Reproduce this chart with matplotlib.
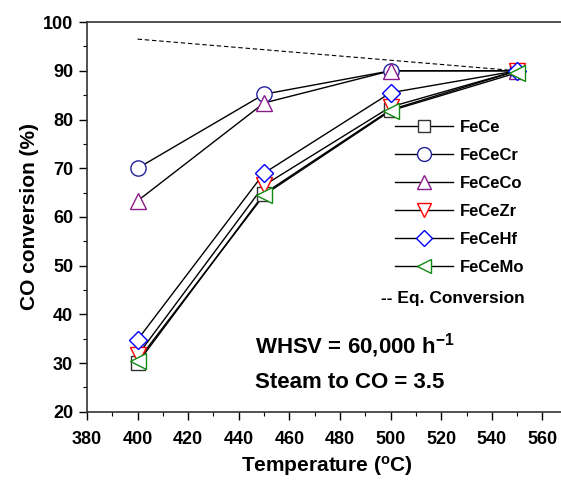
import matplotlib
matplotlib.use("Agg")
import matplotlib.pyplot as plt
from matplotlib.ticker import MultipleLocator
from matplotlib.lines import Line2D

plt.rcParams['font.family'] = ['Liberation Sans', 'DejaVu Sans']
plt.rcParams['font.weight'] = 'bold'
plt.rcParams['mathtext.fontset'] = 'custom'
plt.rcParams['mathtext.rm'] = 'Liberation Sans:bold'
plt.rcParams['mathtext.bf'] = 'Liberation Sans:bold'
plt.rcParams['mathtext.it'] = 'Liberation Sans:bold'

temperature = [400, 450, 500, 550]

fece = [30.0, 64.8, 82.0, 90.0]
fececr = [70.0, 85.2, 90.0, 90.0]
fececo = [63.3, 83.4, 90.0, 90.0]
fecezr = [31.6, 66.5, 82.6, 90.0]
fecehf = [34.8, 69.0, 85.5, 90.0]
fecemo = [30.5, 64.5, 81.8, 89.6]

eq_temperature = [400, 550]
eq_conversion = [96.5, 90.0]

labels = ['FeCe', 'FeCeCr', 'FeCeCo', 'FeCeZr', 'FeCeHf', 'FeCeMo']
series = [fece, fececr, fececo, fecezr, fecehf, fecemo]
markers = ['s', 'o', '^', 'v', 'D', '<']
colors = ['#333333', '#22229a', '#8b1a8b', '#ff0000', '#0000ff', '#118a11']
sizes = [10, 11, 11, 11, 9.5, 11]

fig = plt.figure(figsize=(5.61, 4.80), dpi=100)
ax = fig.add_axes([0.155, 0.142, 0.857, 0.812])

ax.plot(eq_temperature, eq_conversion, color='black', lw=0.8, ls=(0, (4, 2.5)))

handles = []
for vals, lab, m, c, s in zip(series, labels, markers, colors, sizes):
    ax.plot(temperature, vals, color='black', lw=1.0, zorder=2)
    ax.plot(temperature, vals, ls='none', marker=m, ms=s, mfc='white',
            mec=c, mew=1.0, zorder=3)
    handles.append(Line2D([], [], color='black', lw=1.0, marker=m, ms=s - 1,
                          mfc='white', mec=c, mew=1.0))

ax.set_xlim(380, 570)
ax.set_ylim(20, 100)
ax.xaxis.set_major_locator(MultipleLocator(20))
ax.xaxis.set_minor_locator(MultipleLocator(10))
ax.yaxis.set_major_locator(MultipleLocator(10))
ax.yaxis.set_minor_locator(MultipleLocator(5))
ax.tick_params(which='major', direction='out', length=6, width=1.0,
               labelsize=13)
ax.tick_params(which='minor', direction='out', length=3, width=0.8)
ax.tick_params(axis='x', which='major', pad=8)
ax.tick_params(axis='y', which='major', pad=4)
ax.tick_params(axis='x', top=False, which='both')
ax.tick_params(axis='y', right=False, which='both')
for lbl in ax.get_xticklabels() + ax.get_yticklabels():
    lbl.set_fontweight('bold')
for sp in ax.spines.values():
    sp.set_linewidth(1.2)
    sp.set_color('#333333')

ax.set_xlabel('Temperature ($^{\\mathrm{o}}$C)', fontsize=15, fontweight='bold',
              labelpad=4)
ax.set_ylabel('CO conversion (%)', fontsize=15, fontweight='bold', labelpad=3)

leg = ax.legend(handles, labels, loc='upper left', bbox_to_anchor=(0.641, 0.750),
                frameon=False, fontsize=12, handlelength=3.5, handletextpad=0.4,
                labelspacing=0.78, borderaxespad=0, borderpad=0)
for t in leg.get_texts():
    t.set_fontweight('bold')

ax.text(0.612, 0.292, '-- Eq. Conversion', transform=ax.transAxes,
        fontsize=12.5, fontweight='bold', va='center', ha='left')

ax.text(0.349, 0.170, 'WHSV = 60,000 h$^{\\mathrm{-1}}$', transform=ax.transAxes,
        fontsize=16, fontweight='bold', va='center', ha='left')
ax.text(0.349, 0.075, 'Steam to CO = 3.5', transform=ax.transAxes,
        fontsize=16, fontweight='bold', va='center', ha='left')

fig.savefig('out.png', dpi=100)
